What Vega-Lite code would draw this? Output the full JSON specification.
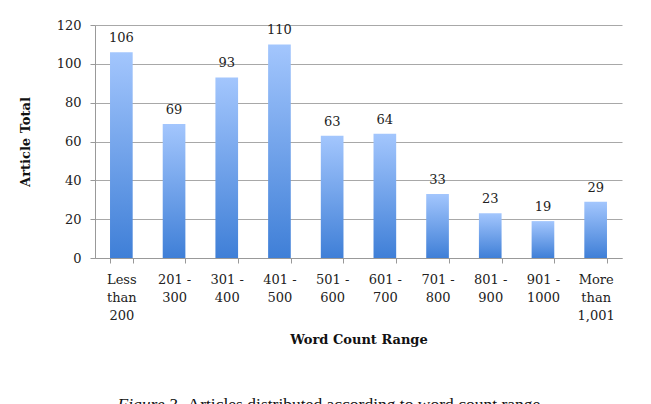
{
  "$schema": "https://vega.github.io/schema/vega-lite/v6.json",
  "width": 527,
  "height": 233,
  "autosize": "none",
  "padding": {"left": 95, "top": 25, "right": 29, "bottom": 146},
  "background": "white",
  "config": {
    "view": {"stroke": null},
    "font": "DejaVu Serif",
    "axis": {"labelFont": "DejaVu Serif", "titleFont": "DejaVu Serif", "labelColor": "#222", "titleColor": "#111"}
  },
  "data": {
    "values": [
      {"range": "Less|than|200", "total": 106},
      {"range": "201 -|300", "total": 69},
      {"range": "301 -|400", "total": 93},
      {"range": "401 -|500", "total": 110},
      {"range": "501 -|600", "total": 63},
      {"range": "601 -|700", "total": 64},
      {"range": "701 -|800", "total": 33},
      {"range": "801 -|900", "total": 23},
      {"range": "901 -|1000", "total": 19},
      {"range": "More|than|1,001", "total": 29}
    ]
  },
  "resolve": {"scale": {"x": "independent", "y": "independent"}},
  "layer": [
    {
      "mark": {
        "type": "bar",
        "color": {
          "gradient": "linear",
          "x1": 0, "y1": 0, "x2": 0, "y2": 1,
          "stops": [
            {"offset": 0, "color": "#a3c6fd"},
            {"offset": 1, "color": "#3f7fd7"}
          ]
        }
      },
      "encoding": {
        "x": {
          "field": "range",
          "type": "nominal",
          "sort": null,
          "scale": {"paddingInner": 0.57, "paddingOuter": 0.285},
          "axis": {
            "title": "Word Count Range",
            "titleFontSize": 13,
            "titleFontWeight": "bold",
            "titlePadding": 11,
            "labelExpr": "isValid(datum.value) ? split(datum.value, '|') : ''",
            "labelAngle": 0,
            "labelFontSize": 13,
            "labelLineHeight": 18,
            "labelPadding": 10,
            "labelBaseline": "top",
            "tickBand": "extent",
            "tickSize": 5,
            "tickColor": "#999",
            "domainColor": "#999",
            "grid": false
          }
        },
        "y": {
          "field": "total",
          "type": "quantitative",
          "scale": {"domain": [0, 120]},
          "axis": {
            "title": "Article Total",
            "titleFontSize": 13,
            "titleFontWeight": "bold",
            "titlePadding": 24,
            "values": [0, 20, 40, 60, 80, 100, 120],
            "labelOverlap": false,
            "labelFontSize": 13,
            "labelPadding": 9,
            "tickSize": 5,
            "tickColor": "#999",
            "domainColor": "#999",
            "gridColor": "#a8a8a8"
          }
        }
      }
    },
    {
      "mark": {"type": "text", "baseline": "alphabetic", "dy": -10, "fontSize": 13, "font": "DejaVu Serif", "color": "#222"},
      "encoding": {
        "x": {
          "field": "range",
          "type": "nominal",
          "sort": null,
          "scale": {"paddingInner": 0.57, "paddingOuter": 0.285},
          "axis": {
            "orient": "bottom",
            "title": "Articles distributed according to word count range.",
            "titleFont": "Liberation Serif",
            "titleFontSize": 17.5,
            "titleFontWeight": "normal",
            "titleColor": "#111",
            "titleX": 92,
            "titleY": 151,
            "titleAlign": "left",
            "titleAnchor": null,
            "titleBaseline": "alphabetic",
            "labels": false,
            "ticks": false,
            "domain": false,
            "grid": false
          }
        },
        "y": {
          "field": "total",
          "type": "quantitative",
          "scale": {"domain": [0, 120]},
          "axis": {
            "orient": "left",
            "title": "Figure 3.",
            "titleFont": "Liberation Serif",
            "titleFontSize": 17.5,
            "titleFontWeight": "normal",
            "titleFontStyle": "italic",
            "titleColor": "#111",
            "titleAngle": 0,
            "titleX": 22,
            "titleY": 384,
            "titleAlign": "left",
            "titleAnchor": null,
            "titleBaseline": "alphabetic",
            "labels": false,
            "ticks": false,
            "domain": false,
            "grid": false
          }
        },
        "text": {"field": "total", "type": "quantitative"}
      }
    }
  ]
}
